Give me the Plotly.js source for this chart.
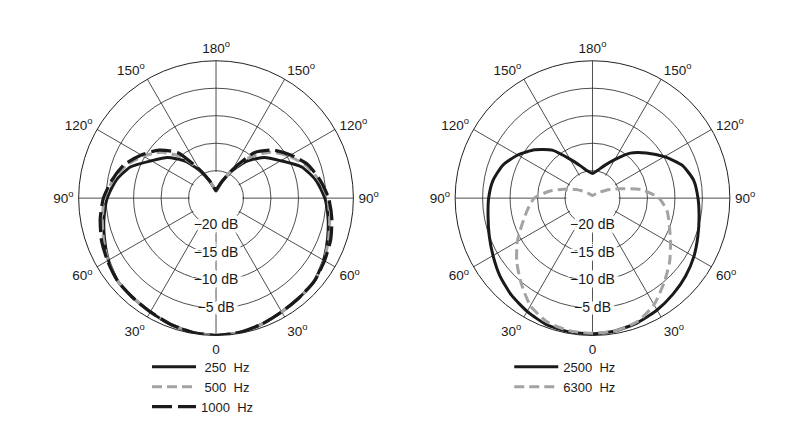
<!DOCTYPE html>
<html>
<head>
<meta charset="utf-8">
<script src="https://cdn.plot.ly/plotly-3.0.1.min.js"></script>
<style>
  html, body { margin: 0; padding: 0; background: #fff; }
  #chart { width: 792px; height: 422px; }
</style>
</head>
<body>
<div id="chart"></div>
<script>
// angles measured from the front of the mic (0 = bottom), counterclockwise
var angles = [0, 10, 20, 30, 40, 50, 60, 70, 80, 90, 100, 110, 120, 130, 140, 150, 160, 170, 180,
              190, 200, 210, 220, 230, 240, 250, 260, 270, 280, 290, 300, 310, 320, 330, 340, 350, 360];

// left chart, response in dB
var hz250 = [0, -0.2, -0.6, -1.1, -1.4, -1.6, -2.4, -3.4, -4.3, -5.2, -6.5, -8.4, -11.4, -13.5, -16.2, -19.3, -21.8, -23.2, -23.7,
             -23.2, -21.8, -19.3, -16.2, -13.5, -11.4, -8.4, -6.5, -5.2, -4.3, -3.4, -2.4, -1.6, -1.4, -1.1, -0.6, -0.2, 0];
var hz500 = [0, -0.2, -0.6, -1.1, -1.4, -1.6, -2.3, -3.2, -4.0, -4.7, -6.0, -7.6, -9.7, -12.0, -15.2, -19.0, -21.7, -23.1, -23.7,
             -23.1, -21.7, -19.0, -15.2, -12.0, -9.7, -7.6, -6.0, -4.7, -4.0, -3.2, -2.3, -1.6, -1.4, -1.1, -0.6, -0.2, 0];
var hz1000 = [0, -0.2, -0.6, -1.1, -1.4, -1.6, -2.2, -2.8, -3.6, -4.5, -5.8, -7.2, -9.3, -11.4, -14.2, -19.0, -21.7, -23.0, -23.5,
              -23.0, -21.7, -19.0, -14.2, -11.4, -9.3, -7.2, -5.8, -4.5, -3.6, -2.8, -2.2, -1.6, -1.4, -1.1, -0.6, -0.2, 0];

// right chart, response in dB
var hz2500 = [-0.3, -0.5, -0.9, -1.5, -2.2, -2.9, -3.7, -4.6, -5.3, -5.8, -6.3, -7.6, -9.9, -12.2, -14.3, -16.9, -18.7, -19.9, -20.5,
              -20.0, -18.8, -16.8, -13.6, -11.3, -9.3, -7.6, -6.6, -6.1, -5.7, -5.0, -4.1, -3.0, -2.0, -1.2, -0.5, -0.3, -0.3];
var hz6300 = [-0.4, -0.5, -1.1, -2.6, -4.8, -6.7, -8.6, -10.1, -11.2, -12.9, -16.0, -20.0, -22.1, -23.3, -24.0, -24.2, -24.4, -24.5, -24.5,
              -24.5, -24.4, -24.2, -23.9, -23.2, -22.0, -20.2, -17.3, -14.4, -13.0, -11.4, -9.2, -7.0, -4.8, -2.4, -1.0, -0.5, -0.4];

// axis labels
var angleTicks = [0, 30, 60, 90, 120, 150, 180, 210, 240, 270, 300, 330];
var angleLabels = ['0', '30<sup>o</sup>', '60<sup>o</sup>', '90<sup>o</sup>', '120<sup>o</sup>', '150<sup>o</sup>', '180<sup>o</sup>',
                   '150<sup>o</sup>', '120<sup>o</sup>', '90<sup>o</sup>', '60<sup>o</sup>', '30<sup>o</sup>'];
var dbLevels = [-20, -15, -10, -5];
var dbLabels = ['\u221220 dB', '\u221215 dB', '\u221210 dB', '\u22125 dB'];
var centerMask = -20.25;

var font = 'Liberation Sans, Arial, Helvetica, sans-serif';
var ink = '#1a1a1a';
var grey = '#a3a3a3';

// white halo so the dB labels sit on a clean patch
var halo = 'white 3px 0 0, white -3px 0 0, white 0 3px 0, white 0 -3px 0, ' +
           'white 3px 3px 0, white -3px 3px 0, white 3px -3px 0, white -3px -3px 0, ' +
           'white 5px 0 1px, white -5px 0 1px, white 0 5px 1px, white 0 -5px 1px';

function maskTrace(sub) {
  return {
    type: 'scatterpolar', subplot: sub, theta: angles,
    r: angles.map(function () { return centerMask; }),
    mode: 'lines', fill: 'toself', fillcolor: 'white',
    line: {width: 0, color: 'white'}, showlegend: false, hoverinfo: 'skip'
  };
}

function dbTrace(sub) {
  return {
    type: 'scatterpolar', subplot: sub,
    theta: dbLevels.map(function () { return 0; }), r: dbLevels,
    mode: 'text', text: dbLabels, textposition: 'middle center',
    textfont: {family: font, size: 14, color: ink, shadow: halo},
    showlegend: false, hoverinfo: 'skip'
  };
}

function curve(sub, vals, name, color, dash, width, leg) {
  return {
    type: 'scatterpolar', subplot: sub, theta: angles, r: vals,
    mode: 'lines', name: name, legend: leg,
    line: {color: color, width: width, dash: dash, shape: 'spline', smoothing: 0.6}
  };
}

var data = [
  maskTrace('polar'),
  curve('polar', hz250, ' 250  Hz', ink, 'solid', 3, 'legend'),
  curve('polar', hz500, ' 500  Hz', grey, '10px,5px', 3, 'legend'),
  curve('polar', hz1000, '1000  Hz', ink, '20px,6px', 3.2, 'legend'),
  dbTrace('polar'),
  maskTrace('polar2'),
  curve('polar2', hz2500, '2500  Hz', ink, 'solid', 3, 'legend2'),
  curve('polar2', hz6300, '6300  Hz', grey, '10px,5px', 3, 'legend2'),
  dbTrace('polar2')
];

function polarLayout(xdom) {
  return {
    domain: {x: xdom, y: [0.1896, 0.8532]},
    bgcolor: 'white',
    angularaxis: {
      rotation: 270, direction: 'counterclockwise',
      tickmode: 'array', tickvals: angleTicks, ticktext: angleLabels,
      ticks: 'outside', ticklen: 2, tickcolor: 'rgba(0,0,0,0)',
      showline: true, linecolor: '#222', linewidth: 1,
      showgrid: true, gridcolor: '#222', gridwidth: 0.8,
      tickfont: {family: font, size: 13.5, color: ink}
    },
    radialaxis: {
      range: [-25, 0], tickmode: 'array', tickvals: dbLevels,
      showticklabels: false, showline: false, ticks: '',
      showgrid: true, gridcolor: '#222', gridwidth: 0.8
    }
  };
}

function legendLayout(x) {
  return {
    x: x, y: 0.15, xanchor: 'left', yanchor: 'top',
    bgcolor: 'rgba(0,0,0,0)', borderwidth: 0, itemwidth: 44,
    font: {family: font, size: 13, color: ink}
  };
}

var layout = {
  width: 792, height: 422,
  margin: {l: 0, r: 0, t: 0, b: 0},
  paper_bgcolor: 'white',
  font: {family: font, color: ink},
  showlegend: true,
  polar: polarLayout([0.096, 0.4495]),
  polar2: polarLayout([0.5713, 0.9249]),
  legend: legendLayout(0.1856),
  legend2: legendLayout(0.643)
};

Plotly.newPlot('chart', data, layout, {staticPlot: true});
</script>
</body>
</html>
